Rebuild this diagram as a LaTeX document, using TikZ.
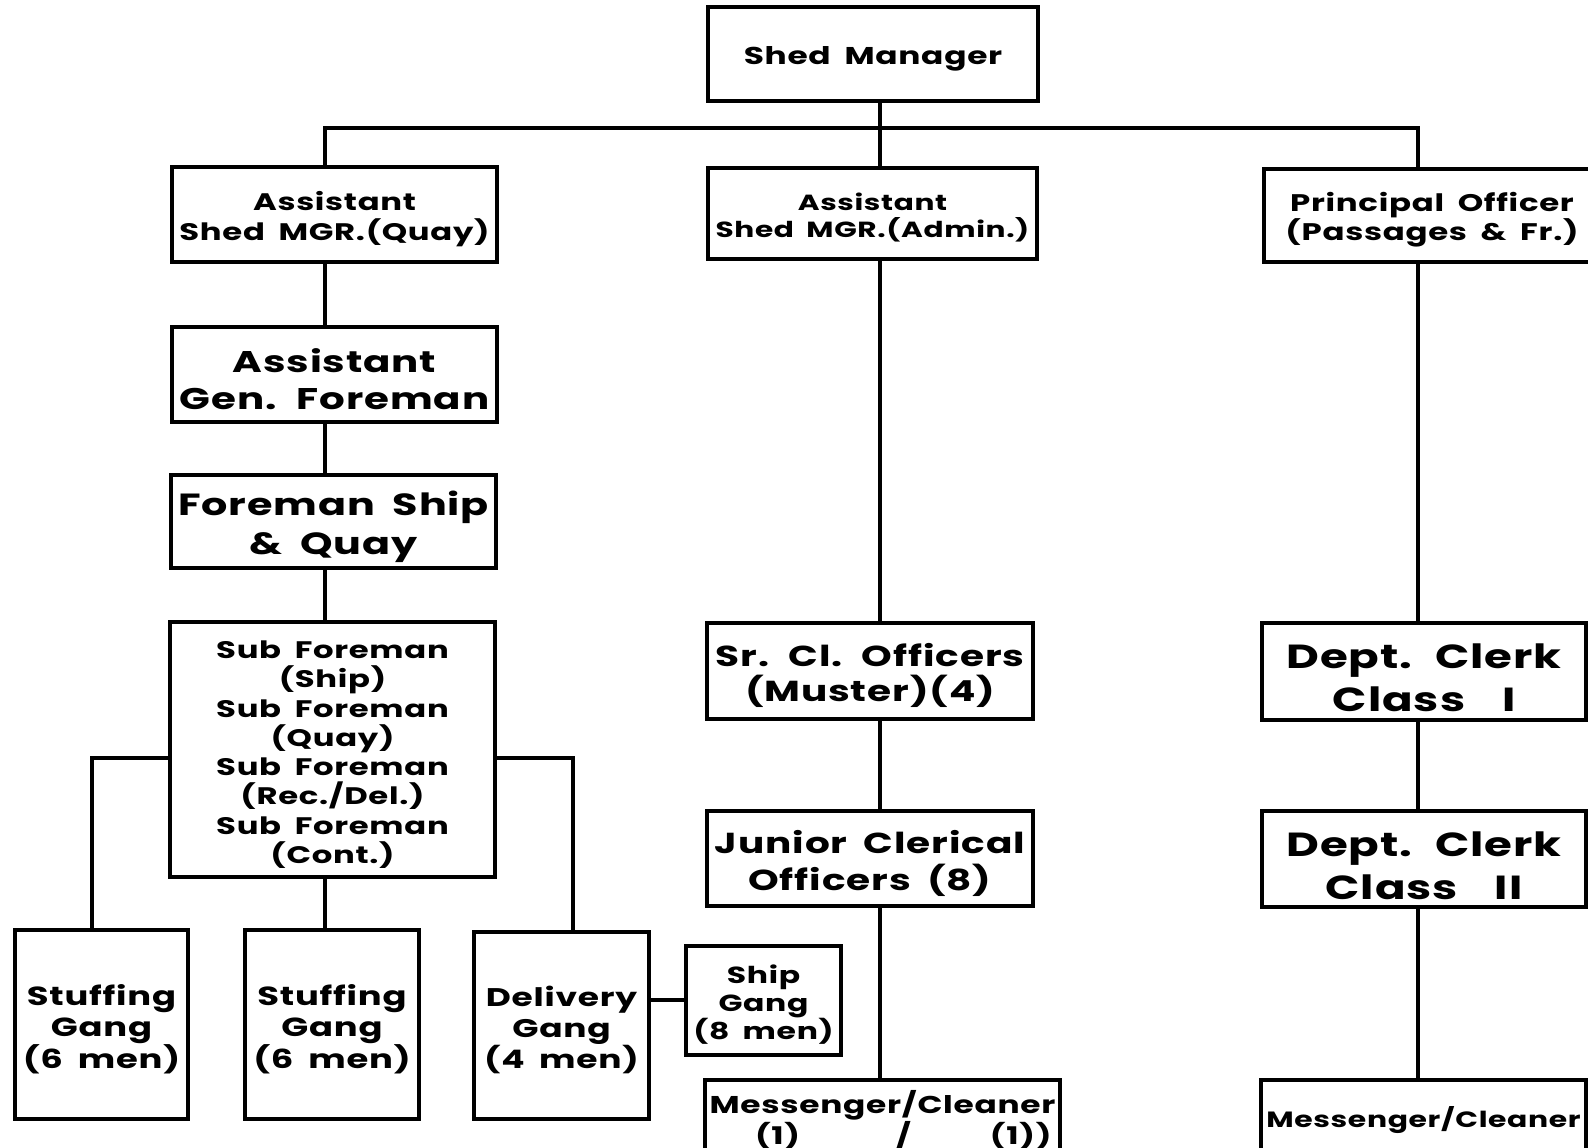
\documentclass[tikz,border=0pt]{standalone}
\usepackage{fontspec}
\setmainfont{Poppins}[FakeStretch=1.35, LetterSpace=3, WordSpace=1.8]
\newcommand\orgfs[2]{\bfseries\fontsize{#1bp}{#2bp}\selectfont}
% invisible strut that lowers a box text a little inside its frame
\newcommand\orgtop{\rule{0pt}{\dimexpr 1em+4bp\relax}}
\begin{document}
\begin{tikzpicture}[x=1bp,y=-1bp,
  orgbox/.style={draw, line width=3.2bp, inner sep=0pt, align=center},
  link/.style={line width=3.2bp},
]
\useasboundingbox (0,0) rectangle (1588,1147);
\clip (0,0) rectangle (1588,1147);

% top level
\node[orgbox, minimum width=330bp, minimum height=94bp, font=\orgfs{24.3}{30}] (mgr) at (873,54) {\orgtop Shed Manager};

% second level
\node[orgbox, minimum width=325bp, minimum height=95bp, font=\orgfs{23.9}{29.5}] (quay) at (334.5,214.5) {\orgtop Assistant\\Shed MGR.(Quay)};
\node[orgbox, minimum width=329bp, minimum height=91bp, font=\orgfs{21.9}{27.5}] (admin) at (872.5,213.5) {\orgtop Assistant\\Shed MGR.(Admin.)};
\node[orgbox, minimum width=336bp, minimum height=93bp, font=\orgfs{24}{29.5}] (princ) at (1432,215.5) {\orgtop Principal Officer\\(Passages \& Fr.)};

% quay branch
\node[orgbox, minimum width=325bp, minimum height=95bp, font=\orgfs{29.9}{37}] (agf) at (334.5,374.5) {\orgtop Assistant\\Gen. Foreman};
\node[orgbox, minimum width=325bp, minimum height=93bp, font=\orgfs{30.6}{38.5}] (fsq) at (333.5,521.5) {\orgtop Foreman Ship\\\& Quay};
\node[orgbox, minimum width=325bp, minimum height=255bp, font=\orgfs{23.9}{29.3}] (sub) at (332.5,749.5)
  {\orgtop Sub Foreman\\(Ship)\\Sub Foreman\\(Quay)\\Sub Foreman\\(Rec./Del.)\\Sub Foreman\\(Cont.)};
\node[orgbox, minimum width=173bp, minimum height=189bp, font=\orgfs{26.2}{31}] (stf1) at (101.5,1024.5) {\orgtop Stuffing\\Gang\\(6 men)};
\node[orgbox, minimum width=174bp, minimum height=189bp, font=\orgfs{26.2}{31}] (stf2) at (332,1024.5) {\orgtop Stuffing\\Gang\\(6 men)};
\node[orgbox, minimum width=175bp, minimum height=187bp, font=\orgfs{25.5}{31}] (dlv) at (561.5,1025.5) {\orgtop Delivery\\Gang\\(4 men)};
\node[orgbox, minimum width=155bp, minimum height=109bp, font=\orgfs{23.3}{27.5}] (ship) at (763.5,1000.5) {\orgtop Ship\\Gang\\(8 men)};

% admin branch
\node[orgbox, minimum width=326bp, minimum height=96bp, font=\orgfs{28.9}{35}] (sr) at (870,671) {\orgtop Sr. Cl. Officers\\(Muster)(4)};
\node[orgbox, minimum width=326bp, minimum height=95bp, font=\orgfs{28.9}{37}] (jr) at (870,858.5) {\orgtop Junior Clerical\\Officers (8)};
\node[orgbox, minimum width=355bp, minimum height=80bp, font=\orgfs{24.3}{31}] (msg1) at (882.5,1120)
  {Messenger/Cleaner\\\makebox[345bp][l]{\hspace*{45bp}\rlap{(1)}\hspace*{141bp}\rlap{/}\hspace*{94bp}\rlap{(1))}}};

% passages branch
\node[orgbox, minimum width=324bp, minimum height=97bp, font=\orgfs{33.4}{43}] (dc1) at (1424,671.5) {\orgtop Dept. Clerk\\Class\hspace{1.1em}I};
\node[orgbox, minimum width=324bp, minimum height=96bp, font=\orgfs{33.4}{43}] (dc2) at (1424,859) {\orgtop Dept. Clerk\\Class\hspace{1.1em}II};
\node[orgbox, minimum width=325bp, minimum height=80bp, font=\orgfs{22.1}{30}] (msg2) at (1423.5,1120) {Messenger/Cleaner};

% column guides
\coordinate (colL) at (325,128);
\coordinate (colM) at (880,128);
\coordinate (colR) at (1418,128);
\coordinate (gL) at (92,758);
\coordinate (gR) at (573,758);

% connectors
\draw[link] (mgr.south -| colM) -- (colM);
\draw[link] (colL |- quay.north) -- (colL) -- (colR) -- (colR |- princ.north);
\draw[link] (colM) -- (colM |- admin.north);

\draw[link] (colL |- quay.south) -- (colL |- agf.north);
\draw[link] (colL |- agf.south) -- (colL |- fsq.north);
\draw[link] (colL |- fsq.south) -- (colL |- sub.north);
\draw[link] (colL |- sub.south) -- (colL |- stf2.north);
\draw[link] (sub.west |- gL) -- (gL) -- (gL |- stf1.north);
\draw[link] (sub.east |- gR) -- (gR) -- (gR |- dlv.north);
\draw[link] (dlv.east |- 0,1000) -- (ship.west |- 0,1000);

\draw[link] (colM |- admin.south) -- (colM |- sr.north);
\draw[link] (colM |- sr.south) -- (colM |- jr.north);
\draw[link] (colM |- jr.south) -- (colM |- msg1.north);

\draw[link] (colR |- princ.south) -- (colR |- dc1.north);
\draw[link] (colR |- dc1.south) -- (colR |- dc2.north);
\draw[link] (colR |- dc2.south) -- (colR |- msg2.north);
\end{tikzpicture}
\end{document}
